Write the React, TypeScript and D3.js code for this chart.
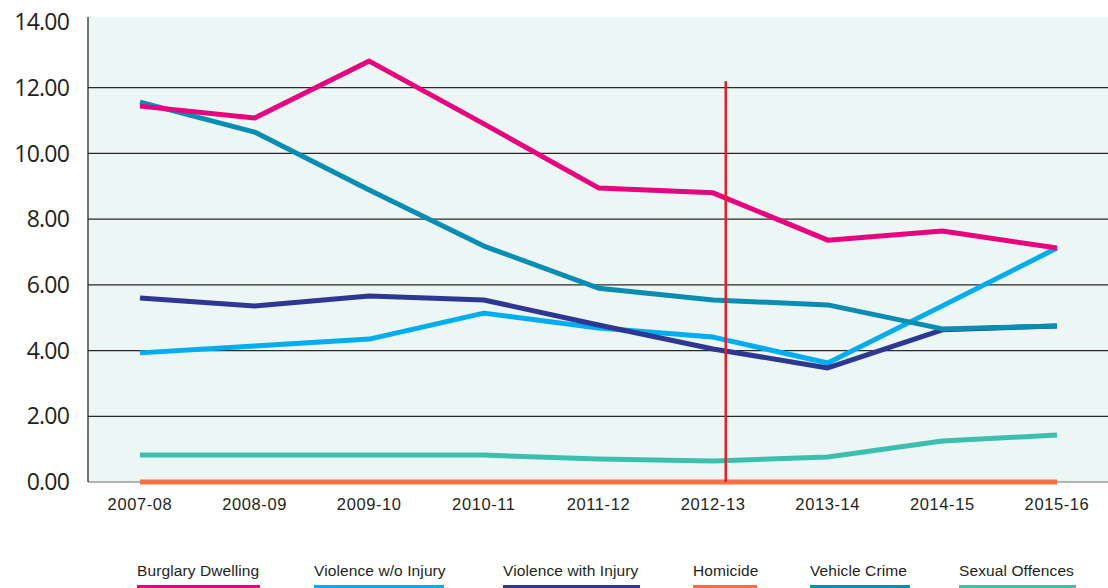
import * as d3 from 'd3'

const years = ['2007-08', '2008-09', '2009-10', '2010-11', '2011-12', '2012-13', '2013-14', '2014-15', '2015-16']
const yTicks = [0, 2, 4, 6, 8, 10, 12, 14]

const burglaryDwelling = [11.44, 11.08, 12.81, 10.9, 8.95, 8.8, 7.36, 7.64, 7.12]
const violenceWithoutInjury = [3.93, 4.14, 4.35, 5.14, 4.69, 4.41, 3.62, 5.36, 7.12]
const violenceWithInjury = [5.6, 5.36, 5.66, 5.54, 4.78, 4.05, 3.47, 4.63, 4.75]
const homicide = [0, 0, 0, 0, 0, 0, 0, 0, 0]
const vehicleCrime = [11.56, 10.65, 8.89, 7.18, 5.9, 5.54, 5.39, 4.66, 4.75]
const sexualOffences = [0.82, 0.82, 0.82, 0.82, 0.7, 0.64, 0.76, 1.25, 1.43]

const series = [
  { name: 'Burglary Dwelling', values: burglaryDwelling, color: '#e6047f' },
  { name: 'Violence w/o Injury', values: violenceWithoutInjury, color: '#00adef' },
  { name: 'Violence with Injury', values: violenceWithInjury, color: '#2e3791' },
  { name: 'Homicide', values: homicide, color: '#f47148' },
  { name: 'Vehicle Crime', values: vehicleCrime, color: '#0a8db3' },
  { name: 'Sexual Offences', values: sexualOffences, color: '#3dbfb0' },
]

// order the lines are painted in
const drawOrder = ['Sexual Offences', 'Violence w/o Injury', 'Violence with Injury', 'Vehicle Crime', 'Burglary Dwelling', 'Homicide']

const legendX = [137, 314, 503, 693, 810, 959]

export default function App() {
  const width = 1108, height = 588
  const plotLeft = 88, plotTop = 17, plotRight = 1108

  const x = d3.scalePoint<string>().domain(years).range([140, 1057])
  const y = d3.scaleLinear().domain([0, 14]).range([482, 22])

  const line = d3.line<number>()
    .x((_, i) => x(years[i]) as number)
    .y(d => y(d))

  const markerX = (x('2012-13') as number) + x.step() * 0.11

  return (
    <svg width={width} height={height} style={{ position: 'absolute', left: 0, top: 0, background: '#fff' }}>
      <rect x={plotLeft} y={plotTop} width={plotRight - plotLeft} height={y(0) - plotTop} fill="#ecf6f4" />
      {yTicks.filter(t => t > 0 && t < 14).map(t => (
        <line key={t} x1={plotLeft} x2={plotRight} y1={y(t)} y2={y(t)} stroke="#2a2a2a" strokeWidth={1.3} />
      ))}
      <line x1={plotLeft} x2={plotRight} y1={y(0)} y2={y(0)} stroke="#9a9a9a" strokeWidth={1.3} />
      <line x1={plotLeft} x2={plotLeft} y1={plotTop} y2={y(0)} stroke="#2a2a2a" strokeWidth={1.3} />
      {yTicks.map(t => (
        <text key={t} x={69} y={y(t) + 2} textAnchor="end" dominantBaseline="middle"
          fontFamily="'Open Sans', 'Noto Sans', sans-serif" fontSize={23} fill="#231f20" letterSpacing={-0.8}>
          {t.toFixed(2)}
        </text>
      ))}
      {years.map(yr => (
        <text key={yr} x={x(yr)} y={506} textAnchor="middle" dominantBaseline="middle"
          fontFamily="'Liberation Sans', Arial, sans-serif" fontSize={16.5} fill="#231f20" letterSpacing={0.6}>
          {yr}
        </text>
      ))}
      {drawOrder.map(n => {
        const s = series.find(d => d.name === n)!
        return <path key={n} d={line(s.values) ?? ''} fill="none" stroke={s.color} strokeWidth={5} strokeLinejoin="round" />
      })}
      <line x1={markerX} x2={markerX} y1={y(12.2)} y2={y(0)} stroke="#e31e2a" strokeWidth={2.5} />
      {series.map((s, i) => (
        <g key={s.name} transform={`translate(${legendX[i]},0)`}>
          <text x={0} y={572} dominantBaseline="middle"
            fontFamily="'Liberation Sans', Arial, sans-serif" fontSize={15.5} fill="#231f20" letterSpacing={0.1}>
            {s.name}
          </text>
          <LegendUnderline label={s.name} color={s.color} />
        </g>
      ))}
    </svg>
  )
}

const underlineWidths: Record<string, number> = {
  'Burglary Dwelling': 123,
  'Violence w/o Injury': 130,
  'Violence with Injury': 137,
  'Homicide': 64,
  'Vehicle Crime': 100,
  'Sexual Offences': 117,
}

const LegendUnderline = ({ label, color }: { label: string, color: string }) => (
  <rect x={0} y={585} width={underlineWidths[label]} height={3} fill={color} />
)
